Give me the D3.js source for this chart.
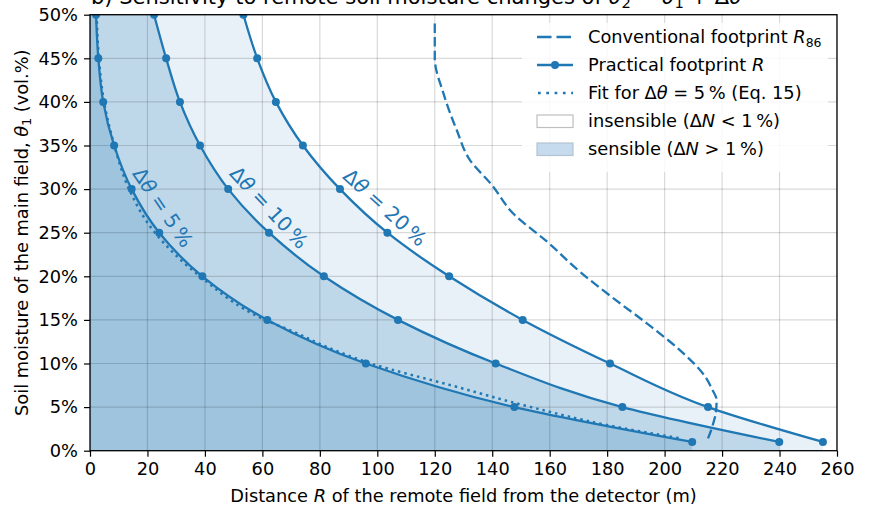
<!DOCTYPE html>
<html><head><meta charset="utf-8">
<script src="https://cdn.jsdelivr.net/npm/d3@7"></script>
<style>body{margin:0;background:#fff} text{font-family:"DejaVu Sans",sans-serif;fill:#000}</style>
</head><body><svg id="c" width="871" height="509"></svg>
<script>
// ---- data ----
const thetaLevels = [50, 45, 40, 35, 30, 25, 20, 15, 10, 5, 1];
const R_d5  = [2.1, 2.9, 4.6, 8.4, 14.5, 24.1, 39.1, 61.7, 96.0, 147.7, 209.6];
const R_d10 = [22.3, 26.5, 31.3, 38.3, 48.1, 62.3, 81.4, 107.2, 141.2, 185.3, 239.9];
const R_d20 = [53.4, 58.2, 64.7, 74.1, 87.0, 103.5, 125.0, 150.6, 181.0, 215.1, 255.1];
const fitTheta = [50, 45, 40, 35, 30, 25, 20, 15, 13.65, 11.9, 10, 7.53, 5, 2.95, 1.42];
const fitR     = [2.3, 3.1, 4.9, 8.5, 13.6, 22.6, 38.3, 61.0, 70.8, 82.4, 97.8, 125.3, 153.5, 179.8, 205.3];
const r86Theta = [49, 45, 41, 36.8, 33.3, 30.5, 27.2, 24, 20.5, 17.5, 14.6, 11.5, 8.5, 7, 5.8, 4.3, 3, 2, 1];
const r86R     = [120, 120, 123, 127.6, 132.3, 139.8, 147.3, 159, 170.6, 182.1, 193.8, 205.4, 214.1, 216.6, 218.1, 217.8, 216.8, 215.8, 214.6];
const xTicks = [0, 20, 40, 60, 80, 100, 120, 140, 160, 180, 200, 220, 240, 260];
const yTicks = [0, 5, 10, 15, 20, 25, 30, 35, 40, 45, 50];
const deltaLabels = ["5", "10", "20"];
const labelPos = [[25.4, 27.9, 56], [62.3, 27.9, 47], [102.7, 27.9, 42]];

// ---- setup ----
const svg = d3.select("#c");
const blue = "#1f77b4";
const FS = 17.8;
const LW = 2.3;
const MR = 4;
const x = d3.scaleLinear().domain([0, 260]).range([90, 837]);
const y = d3.scaleLinear().domain([0, 50]).range([450.7, 14.7]);

svg.append("defs").append("clipPath").attr("id", "pc")
  .append("rect").attr("x", x(0)).attr("y", y(50)).attr("width", x(260) - x(0)).attr("height", y(0) - y(50));
const plot = svg.append("g").attr("clip-path", "url(#pc)");

const line = d3.line().x(d => x(d.r)).y(d => y(d.t)).curve(d3.curveMonotoneY);
const mk = (R) => thetaLevels.map((t, i) => ({t, r: R[i]}));

// fills
[[R_d20, 0.1], [R_d10, 0.2], [R_d5, 0.2]].forEach(([R, op]) => {
  const pts = mk(R);
  const last = pts[pts.length - 1];
  const p = line(pts) + `L${x(last.r)},${y(0)}L${x(0)},${y(0)}L${x(0)},${y(50)}Z`;
  plot.append("path").attr("d", p).attr("fill", blue).attr("fill-opacity", op).attr("stroke", "none");
});

// grid
plot.append("g").selectAll("line").data(xTicks).join("line")
  .attr("x1", d => x(d)).attr("x2", d => x(d)).attr("y1", y(0)).attr("y2", y(50))
  .attr("stroke", "#000").attr("stroke-opacity", 0.15).attr("stroke-width", 1.2);
plot.append("g").selectAll("line").data(yTicks).join("line")
  .attr("y1", d => y(d)).attr("y2", d => y(d)).attr("x1", x(0)).attr("x2", x(260))
  .attr("stroke", "#000").attr("stroke-opacity", 0.15).attr("stroke-width", 1.2);

// R86 dashed
plot.append("path").attr("d", line(r86Theta.map((t, i) => ({t, r: r86R[i]}))))
  .attr("fill", "none").attr("stroke", blue).attr("stroke-width", LW).attr("stroke-dasharray", "9.5,4.2");
// fit dotted
plot.append("path").attr("d", line(fitTheta.map((t, i) => ({t, r: fitR[i]}))))
  .attr("fill", "none").attr("stroke", blue).attr("stroke-width", 2.5).attr("stroke-dasharray", "2.5,4");

// practical footprint lines
[R_d5, R_d10, R_d20].forEach(R => {
  const pts = mk(R);
  plot.append("path").attr("d", line(pts)).attr("fill", "none").attr("stroke", blue).attr("stroke-width", LW);
  plot.append("g").selectAll("circle").data(pts).join("circle")
    .attr("cx", d => x(d.r)).attr("cy", d => y(d.t)).attr("r", MR).attr("fill", blue);
});

// curve labels
deltaLabels.forEach((lab, i) => {
  const [r, t, ang] = labelPos[i];
  const tx = svg.append("text").attr("transform", `translate(${x(r)},${y(t)}) rotate(${ang})`)
    .attr("text-anchor", "middle").attr("dominant-baseline", "central")
    .style("font-size", "20px").style("fill", blue);
  tx.append("tspan").text("Δ");
  tx.append("tspan").attr("font-style", "italic").text("θ");
  tx.append("tspan").text(" = " + lab + "\u2009%");
});

// axes
const xAxis = svg.append("g").attr("transform", `translate(0,${y(0)})`)
  .call(d3.axisBottom(x).tickValues(xTicks).tickSize(6).tickPadding(6).tickFormat(d3.format("d")));
const yAxis = svg.append("g").attr("transform", `translate(${x(0)},0)`)
  .call(d3.axisLeft(y).tickValues(yTicks).tickSize(6).tickPadding(6).tickFormat(d => d + "%"));
[xAxis, yAxis].forEach(a => {
  a.select(".domain").remove();
  a.selectAll(".tick line").attr("stroke", "#000").attr("stroke-width", 1.2);
  a.selectAll(".tick text").style("font-size", FS + "px").style("font-family", "DejaVu Sans").attr("fill", "#000");
});

// spines
svg.append("rect").attr("x", x(0)).attr("y", y(50)).attr("width", x(260) - x(0)).attr("height", y(0) - y(50))
  .attr("fill", "none").attr("stroke", "#000").attr("stroke-width", 1.3);

// axis labels
const xl = svg.append("text").attr("x", (x(0) + x(260)) / 2).attr("y", 502).attr("text-anchor", "middle").style("font-size", FS + "px");
xl.append("tspan").text("Distance ");
xl.append("tspan").attr("font-style", "italic").text("R");
xl.append("tspan").text(" of the remote field from the detector (m)");

const yl = svg.append("text").attr("transform", `translate(28,${(y(0) + y(50)) / 2}) rotate(-90)`).attr("text-anchor", "middle").style("font-size", FS + "px");
yl.append("tspan").text("Soil moisture of the main field, ");
yl.append("tspan").attr("font-style", "italic").text("θ");
yl.append("tspan").attr("font-size", "0.7em").attr("dy", "0.25em").text("1");
yl.append("tspan").attr("dy", "-0.175em").text(" (vol.%)");

// title (mostly clipped at top, as in the reference)
const tt = svg.append("text").attr("x", 91).attr("y", 4).style("font-size", "21px");
tt.append("tspan").text("b) Sensitivity to remote soil moisture changes of ");
tt.append("tspan").attr("font-style", "italic").text("θ");
tt.append("tspan").attr("font-size", "0.7em").attr("dy", "0.25em").text("2");
tt.append("tspan").attr("dy", "-0.175em").text(" = ");
tt.append("tspan").attr("font-style", "italic").text("θ");
tt.append("tspan").attr("font-size", "0.7em").attr("dy", "0.25em").text("1");
tt.append("tspan").attr("dy", "-0.175em").text(" + Δ");
tt.append("tspan").attr("font-style", "italic").text("θ");

// legend
const lg = svg.append("g");
lg.append("rect").attr("x", 522).attr("y", 23).attr("width", 306).attr("height", 149).attr("rx", 3)
  .attr("fill", "#fff").attr("fill-opacity", 0.85);
const rows = [37, 65, 93, 121, 149];
const hx0 = 537, hx1 = 573, tx0 = 588;
lg.append("line").attr("x1", hx0).attr("x2", hx1 - 2).attr("y1", rows[0]).attr("y2", rows[0])
  .attr("stroke", blue).attr("stroke-width", LW + 0.4).attr("stroke-dasharray", "14.5,5");
lg.append("line").attr("x1", hx0).attr("x2", hx1).attr("y1", rows[1]).attr("y2", rows[1])
  .attr("stroke", blue).attr("stroke-width", LW);
lg.append("circle").attr("cx", (hx0 + hx1) / 2).attr("cy", rows[1]).attr("r", MR).attr("fill", blue);
lg.append("line").attr("x1", hx0 + 1).attr("x2", hx1).attr("y1", rows[2]).attr("y2", rows[2])
  .attr("stroke", blue).attr("stroke-width", 2.7).attr("stroke-dasharray", "2.7,5.6");
lg.append("rect").attr("x", hx0).attr("y", rows[3] - 6).attr("width", hx1 - hx0).attr("height", 12.5)
  .attr("fill", "#fff").attr("stroke", "#bfbfbf").attr("stroke-width", 1.2);
lg.append("rect").attr("x", hx0).attr("y", rows[4] - 6).attr("width", hx1 - hx0).attr("height", 12.5)
  .attr("fill", "#c6dbed").attr("stroke", "#b4c4d2").attr("stroke-width", 1.2);

const lt = (row) => lg.append("text").attr("x", tx0).attr("y", rows[row] + 6.4).style("font-size", FS + "px");
let t0 = lt(0);
t0.append("tspan").text("Conventional footprint ");
t0.append("tspan").attr("font-style", "italic").text("R");
t0.append("tspan").attr("font-size", "0.7em").attr("dy", "0.25em").text("86");
let t1 = lt(1);
t1.append("tspan").text("Practical footprint ");
t1.append("tspan").attr("font-style", "italic").text("R");
let t2 = lt(2);
t2.append("tspan").text("Fit for Δ");
t2.append("tspan").attr("font-style", "italic").text("θ");
t2.append("tspan").text(" = 5\u2009% (Eq. 15)");
let t3 = lt(3);
t3.append("tspan").text("insensible (Δ");
t3.append("tspan").attr("font-style", "italic").text("N");
t3.append("tspan").text(" < 1\u2009%)");
let t4 = lt(4);
t4.append("tspan").text("sensible (Δ");
t4.append("tspan").attr("font-style", "italic").text("N");
t4.append("tspan").text(" > 1\u2009%)");
</script></body></html>
